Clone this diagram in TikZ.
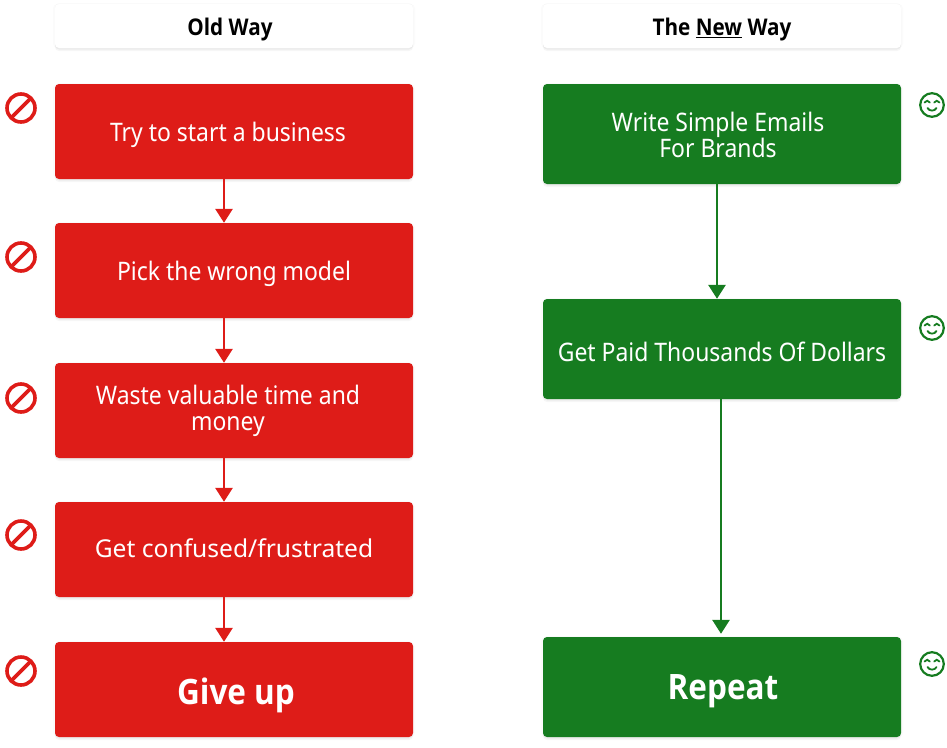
\documentclass[tikz,border=0pt]{standalone}
\usepackage{fontspec}
\setmainfont{Noto Sans}[FakeStretch=0.9]
\newfontfamily\widefont{Noto Sans}
\newfontfamily\heavyfont{Open Sans}[FakeStretch=0.9,BoldFeatures={FakeStretch=0.9}]
\usetikzlibrary{arrows.meta,shadows}
\definecolor{redbox}{HTML}{DE1C18}
\definecolor{greenbox}{HTML}{167C20}
\tikzset{
  softshadow/.style={
    drop shadow={shadow xshift=-2pt,shadow yshift=0pt,opacity=.03},
    drop shadow={shadow xshift=2pt,shadow yshift=0pt,opacity=.03},
    drop shadow={shadow xshift=0pt,shadow yshift=1pt,opacity=.04},
    drop shadow={shadow xshift=0pt,shadow yshift=-1.5pt,opacity=.09},
    drop shadow={shadow xshift=0pt,shadow yshift=-3pt,opacity=.07}},
  boxbase/.style={rectangle,rounded corners=4pt,minimum width=358pt,inner sep=0pt,softshadow},
  headbox/.style={boxbase,fill=white,minimum height=44pt},
  redstep/.style={boxbase,fill=redbox,minimum height=95pt},
  greenstep/.style={boxbase,fill=greenbox,minimum height=100pt},
  steptext/.style={text=white,font=\fontsize{25.5}{26}\selectfont,align=center,inner sep=0pt},
  bigtext/.style={text=white,font=\fontsize{35}{38}\heavyfont\bfseries,inner sep=0pt},
  headtext/.style={text=black,font=\fontsize{23}{25}\heavyfont\bfseries,inner sep=0pt},
  redarrow/.style={draw=redbox,line width=2.8pt,-{Triangle[length=14pt,width=17pt]}},
  greenarrow/.style={draw=greenbox,line width=2.8pt,-{Triangle[length=14pt,width=17pt]}},
  pics/noentry/.style={code={
    \draw[redbox,line width=3.6pt] (0,0) circle (14);
    \draw[redbox,line width=3.6pt] (-9.9,9.9) -- (9.9,-9.9);}},
  pics/smile/.style={code={
    \draw[greenbox,line width=2.2pt] (0,0) circle (11.8);
    \draw[greenbox,line width=1.8pt,line cap=round] (-7.5,-2.5) .. controls (-6,-4.8) and (-3.5,-4.8) .. (-2.2,-2.5);
    \draw[greenbox,line width=1.8pt,line cap=round] (2.2,-2.5) .. controls (3.5,-4.8) and (6,-4.8) .. (7.5,-2.5);
    \draw[greenbox,line width=1.8pt,line cap=round] (-4.5,3) .. controls (-2.5,6.5) and (2.5,6.5) .. (4.5,3);}}
}
\begin{document}
\begin{tikzpicture}[x=1pt,y=-1pt]
\useasboundingbox (0,0) rectangle (947,747);
\node[headbox] (hl) at (234,26) {};
\node[headbox] (hr) at (722,26) {};
\node[headtext] (hlt) at (230,29.5) {Old Way};
\node[headtext] (hrt) at (722,29.5) {The \underline{New} Way};
\node[redstep] (a) at (234,131.5) {};
\node[redstep] (b) at (234,270.5) {};
\node[redstep] (c) at (234,410.5) {};
\node[redstep] (d) at (234,549.5) {};
\node[redstep] (e) at (234,689.5) {};
\node[steptext] (at) at (228,135) {Try to start a business};
\node[steptext] (bt) at (234,274) {Pick the wrong model};
\node[steptext] (ct) at (228,411) {Waste valuable time and\\money};
\node[steptext,font=\fontsize{24.6}{26}\widefont] (dt) at (234,548) {Get confused/frustrated};
\node[bigtext] (et) at (236,695) {Give up};
\node[greenstep] (p) at (722,134) {};
\node[greenstep] (q) at (722,349) {};
\node[greenstep] (r) at (722,687) {};
\node[steptext] (pt) at (718,135) {Write Simple Emails\\For Brands};
\node[steptext] (qt) at (722,352) {Get Paid Thousands Of Dollars};
\node[bigtext] (rt) at (723,691) {Repeat};
\coordinate (lx) at (224,0);
\coordinate (r1) at (717,0);
\coordinate (r2) at (721,0);
\draw[redarrow] (a.south -| lx) -- (b.north -| lx);
\draw[redarrow] (b.south -| lx) -- (c.north -| lx);
\draw[redarrow] (c.south -| lx) -- (d.north -| lx);
\draw[redarrow] (d.south -| lx) -- (e.north -| lx);
\draw[greenarrow] (p.south -| r1) -- (q.north -| r1);
\draw[greenarrow] (q.south -| r2) -- ([yshift=3pt]r.north -| r2);
\foreach \yy in {108,257,398,535,671} \pic at (21,\yy) {noentry};
\foreach \yy in {105,328,664} \pic at (932,\yy) {smile};
\end{tikzpicture}
\end{document}
